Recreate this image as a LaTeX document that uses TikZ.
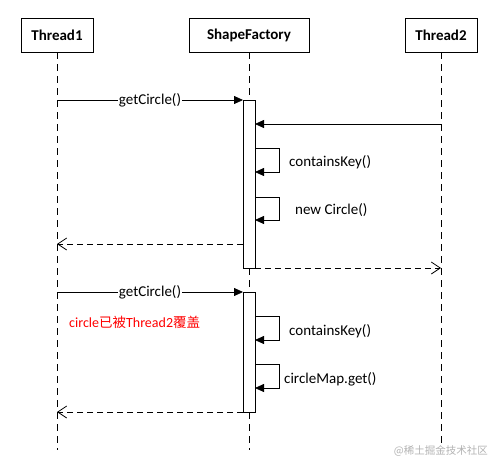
\documentclass[tikz,border=0pt]{standalone}
\usepackage{fontspec}
\setmainfont{Carlito}
\newfontfamily\cjk{Noto Sans CJK SC}
\usetikzlibrary{arrows.meta}
\tikzset{
  objbox/.style={draw,line width=0.8pt,minimum height=34pt,inner sep=0pt,font=\bfseries\fontsize{15}{18}\selectfont},
  lifeline/.style={line width=0.7pt,dash pattern=on 7pt off 5pt},
  actbox/.style={draw,fill=white,line width=0.8pt,minimum width=12pt,inner sep=0pt,outer sep=0pt},
  msg/.style={line width=0.8pt,-{Triangle[length=9pt,width=8pt]}},
  retmsg/.style={line width=0.8pt,dash pattern=on 6pt off 4pt,-{Straight Barb[length=9pt,width=12pt,line width=0.8pt]}},
  lbl/.style={font=\fontsize{15}{18}\selectfont,inner sep=1pt}
}
\begin{document}
\begin{tikzpicture}[x=1pt,y=-1pt]
\useasboundingbox (0,0) rectangle (501,469);
% objects
\node[objbox,minimum width=72pt] (thread1) at (57,35) {Thread1};
\node[objbox,minimum width=120pt] (factory) at (249,35) {ShapeFactory};
\node[objbox,minimum width=72pt] (thread2) at (441,35) {Thread2};
% lifelines
\coordinate (t1end) at (57,450);
\coordinate (sfend) at (249,450);
\coordinate (t2end) at (441,443);
\draw[lifeline] (thread1.south) -- (t1end);
\draw[lifeline] (factory.south) -- (sfend);
\draw[lifeline] (thread2.south) -- (t2end);
% activations
\node[actbox,minimum height=168pt,anchor=north] (act1) at (249,100) {};
\node[actbox,minimum height=120pt,anchor=north] (act2) at (249,292) {};
% first call
\coordinate (t1a) at (57,100);
\draw[msg] (t1a) -- (act1.north west);
\node[lbl,fill=white] (call1) at (150,100) {getCircle()};
\coordinate (t2a) at (441,124);
\draw[msg] (t2a) -- (act1.east |- t2a);
\coordinate (s1a) at (255,148);
\coordinate (s1b) at (255,172);
\draw[msg] (s1a) -- ++(24,0) |- (s1b);
\node[lbl,anchor=west] (key1) at (288,162) {containsKey()};
\coordinate (s2a) at (255,197);
\coordinate (s2b) at (255,220);
\draw[msg] (s2a) -- ++(24,0) |- (s2b);
\node[lbl,anchor=west] (new1) at (294,210) {new Circle()};
\coordinate (t1b) at (57,244);
\draw[retmsg] (act1.west |- t1b) -- (t1b);
\coordinate (t2b) at (441,268);
\draw[retmsg] (act1.south east) -- (t2b);
% second call
\coordinate (t1c) at (57,292);
\draw[msg] (t1c) -- (act2.north west);
\node[lbl,fill=white] (call2) at (150,292) {getCircle()};
\node[lbl,anchor=west,text=red,font=\fontsize{14}{17}\selectfont] (note) at (68,322) {circle{\cjk\fontsize{13.5}{16}\selectfont 已被}Thread2{\cjk\fontsize{13.5}{16}\selectfont 覆盖}};
\coordinate (s3a) at (255,316);
\coordinate (s3b) at (255,340);
\draw[msg] (s3a) -- ++(24,0) |- (s3b);
\node[lbl,anchor=west] (key2) at (288,331) {containsKey()};
\coordinate (s4a) at (255,364);
\coordinate (s4b) at (255,388);
\draw[msg] (s4a) -- ++(24,0) |- (s4b);
\node[lbl,anchor=west] (get2) at (283,379) {circleMap.get()};
\coordinate (t1d) at (57,412);
\draw[retmsg] (act2.south west) -- (t1d);
% watermark
\node[anchor=east,text=black!30,font=\cjk\fontsize{10.5}{12}\selectfont,inner sep=0pt] (mark) at (488,451) {@稀土掘金技术社区};
\end{tikzpicture}
\end{document}
